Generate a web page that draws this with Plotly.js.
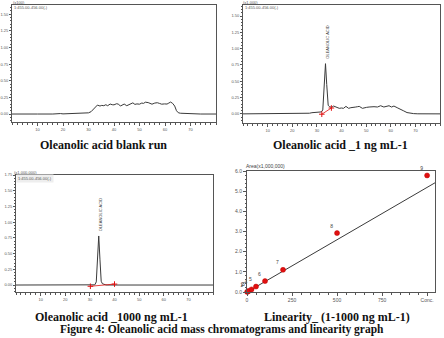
<!DOCTYPE html>
<html>
<head>
<meta charset="utf-8">
<script src="https://cdn.plot.ly/plotly-3.0.1.min.js"></script>
<style>
  html, body { margin: 0; padding: 0; background: #fff; }
  #chart { width: 444px; height: 338px; }
</style>
</head>
<body>
<div id="chart"></div>
<script>
// Oleanolic acid SIM chromatograms (retention time in min vs. intensity)
const blankTime = [0, 3, 5, 8, 10, 16, 17, 19, 20, 22, 23, 25, 26, 27, 28, 29, 30, 31, 32, 32.8, 33.5, 34.5, 35.2, 36, 36.8, 37.5, 38.5, 39.3, 40, 41, 41.8, 42.5, 43.3, 44, 45, 45.8, 46.5, 47.4, 48.2, 49, 50, 50.9, 51.6, 52.3, 53.4, 54.2, 54.9, 56, 57, 57.8, 58.7, 59.8, 60.8, 61.5, 62.2, 63, 63.8, 64.5, 65.2, 66, 67, 68, 69, 70, 71, 72, 74, 80];
const blankSignal = [0, 0.003, 0.005, 0.004, 0, 0, 0.006, 0.007, 0.002, 0.004, 0.008, 0.01, 0.006, 0.012, 0.01, 0.015, 0.018, 0.035, 0.07, 0.11, 0.135, 0.12, 0.13, 0.125, 0.14, 0.125, 0.15, 0.14, 0.138, 0.155, 0.148, 0.12, 0.135, 0.15, 0.125, 0.14, 0.15, 0.168, 0.145, 0.152, 0.148, 0.165, 0.16, 0.178, 0.172, 0.155, 0.148, 0.165, 0.17, 0.16, 0.148, 0.152, 0.15, 0.165, 0.18, 0.16, 0.12, 0.05, 0.02, 0.012, 0.01, 0.012, 0.008, 0.01, 0.005, 0.002, 0, 0];

const lowTime = [0, 5, 7, 8, 15, 16, 17, 20, 22, 24, 25, 26, 27, 28, 29, 30, 31, 31.8, 32.4, 33, 33.5, 34, 34.6, 35.2, 36, 36.8, 37.5, 38.3, 39.1, 40, 40.8, 41.8, 42.9, 43.8, 44.5, 45.8, 46.5, 47.2, 48.5, 49.3, 50.2, 51.2, 52.2, 53.2, 54.6, 55.9, 57.2, 58.6, 59.3, 60.3, 61.3, 62.6, 64, 65.3, 66.6, 68, 69.3, 71, 80];
const lowSignal = [0, 0.001, 0.004, 0.001, 0.002, 0.008, 0.003, 0.004, 0.006, 0.01, 0.008, 0.012, 0.01, 0.018, 0.02, 0.022, 0.025, 0.03, 0.06, 0.4, 0.77, 0.45, 0.13, 0.11, 0.1, 0.12, 0.11, 0.1, 0.085, 0.09, 0.085, 0.115, 0.085, 0.095, 0.095, 0.105, 0.11, 0.115, 0.085, 0.095, 0.1, 0.105, 0.11, 0.11, 0.105, 0.125, 0.105, 0.115, 0.125, 0.105, 0.12, 0.095, 0.075, 0.045, 0.02, 0.008, 0.004, 0.001, 0];

const highTime = [0, 31, 32, 32.6, 33.1, 33.6, 34.1, 34.6, 35.1, 35.6, 36.5, 37, 80];
const highSignal = [0, 0, 0.003, 0.05, 0.45, 0.78, 0.4, 0.06, 0.02, 0.01, 0.002, 0, 0];

// integration baselines (start / end of the peak)
const lowBaseTime = [32.0, 35.9];
const lowBaseSignal = [-0.005, 0.09];
const highBaseTime = [30.2, 40.0];
const highBaseSignal = [-0.02, 0.015];

// calibration levels (ng/mL) and peak areas (x1,000,000)
const calLevel = ['1', '2', '3', '4', '5', '6', '7', '8', '9'];
const calConc = [1, 5, 10, 25, 50, 100, 200, 500, 1000];
const calArea = [0.006, 0.03, 0.055, 0.13, 0.27, 0.54, 1.1, 2.92, 5.78];
const fitSlope = 0.00519;
const fitIntercept = -0.003;
const fitRange = [0, 1044];

const chromTicks = [10, 20, 30, 40, 50, 60, 70];
const calTickVals = [0, 250, 500, 750, 1000];
const calTickText = ['0', '250', '500', '750', 'Conc.'];

const W = 444, H = 338;
const px = v => v / W;
const py = v => 1 - v / H;

const axisCol = '#555';
const lineCol = '#3a3a3a';
const red = '#e01010';
const smallFont = { family: 'Liberation Sans, Arial, sans-serif', size: 4, color: '#555' };

function chromX(domain) {
  return {
    domain: domain, range: [0, 80], tickvals: chromTicks,
    showline: true, linecolor: axisCol, linewidth: 1, mirror: true,
    ticks: 'outside', ticklen: 3, tickcolor: axisCol, tickwidth: 1,
    tickfont: smallFont, showgrid: false, zeroline: false,
    minor: { ticks: 'outside', ticklen: 1.5, dtick: 2, tick0: 0, tickcolor: axisCol, showgrid: false }
  };
}
function chromY(domain, range) {
  return {
    domain: domain, range: range, dtick: 0.25, tick0: 0, tickformat: '.2f',
    showline: true, linecolor: axisCol, linewidth: 1, mirror: true,
    ticks: 'outside', ticklen: 2, tickcolor: axisCol, tickwidth: 1,
    tickfont: smallFont, showgrid: false, zeroline: false,
    minor: { ticks: 'outside', ticklen: 1.2, dtick: 0.05, tick0: 0, tickcolor: axisCol, showgrid: false }
  };
}

const fitY = fitRange.map(x => fitSlope * x + fitIntercept);

const traces = [
  { x: blankTime, y: blankSignal, xaxis: 'x', yaxis: 'y', mode: 'lines',
    line: { color: lineCol, width: 1 }, hoverinfo: 'skip' },
  { x: lowTime, y: lowSignal, xaxis: 'x2', yaxis: 'y2', mode: 'lines',
    line: { color: lineCol, width: 1 }, hoverinfo: 'skip' },
  { x: lowBaseTime, y: lowBaseSignal, xaxis: 'x2', yaxis: 'y2', mode: 'lines+markers',
    line: { color: red, width: 0.8 }, marker: { symbol: 'cross-thin', size: 4, line: { color: red, width: 1 } } },
  { x: highTime, y: highSignal, xaxis: 'x3', yaxis: 'y3', mode: 'lines',
    line: { color: lineCol, width: 1 }, hoverinfo: 'skip' },
  { x: highBaseTime, y: highBaseSignal, xaxis: 'x3', yaxis: 'y3', mode: 'lines+markers',
    line: { color: red, width: 0.8 }, marker: { symbol: 'cross-thin', size: 4, line: { color: red, width: 1 } } },
  { x: fitRange, y: fitY, xaxis: 'x4', yaxis: 'y4', mode: 'lines',
    line: { color: lineCol, width: 1 }, hoverinfo: 'skip' },
  { x: calConc, y: calArea, xaxis: 'x4', yaxis: 'y4', mode: 'markers+text',
    text: calLevel, textposition: 'top left',
    textfont: { family: 'Liberation Sans, Arial, sans-serif', size: 5, color: '#444' },
    marker: { color: red, size: 5, line: { color: '#c00000', width: 0.5 } }, cliponaxis: false }
];

const captionFont = { family: 'Liberation Serif, Times New Roman, serif', size: 12, color: '#111' };

const annotations = [
  // chromatogram headers
  { text: '(x100)', x: px(11), y: py(2.7), xref: 'paper', yref: 'paper', xanchor: 'left', yanchor: 'middle', showarrow: false, font: smallFont },
  { text: '1:455.00-456.00(-)', x: px(12), y: py(7.5), xref: 'paper', yref: 'paper', xanchor: 'left', yanchor: 'middle', showarrow: false, font: smallFont },
  { text: '(x1,000)', x: px(241), y: py(2.7), xref: 'paper', yref: 'paper', xanchor: 'left', yanchor: 'middle', showarrow: false, font: smallFont },
  { text: '1:455.00-456.00(-)', x: px(243), y: py(7.5), xref: 'paper', yref: 'paper', xanchor: 'left', yanchor: 'middle', showarrow: false, font: smallFont },
  { text: '(x1,000,000)', x: px(12), y: py(172), xref: 'paper', yref: 'paper', xanchor: 'left', yanchor: 'middle', showarrow: false, font: smallFont },
  { text: '1:455.00-456.00(-)', x: px(16), y: py(178), xref: 'paper', yref: 'paper', xanchor: 'left', yanchor: 'middle', showarrow: false, font: smallFont, bgcolor: '#eeeeee' },
  { text: 'Area(x1,000,000)', x: px(244), y: py(166), xref: 'paper', yref: 'paper', xanchor: 'left', yanchor: 'middle', showarrow: false,
    font: { family: 'Liberation Sans, Arial, sans-serif', size: 5, color: '#444' } },
  // peak labels
  { text: 'OLEANOLIC ACID', x: 33.5, y: 0.77, xref: 'x2', yref: 'y2', textangle: -90, xanchor: 'center', yanchor: 'bottom',
    xshift: 2, yshift: 3, showarrow: false, font: { family: 'Liberation Sans, Arial, sans-serif', size: 4, color: '#444' } },
  { text: 'OLEANOLIC ACID', x: 33.6, y: 0.78, xref: 'x3', yref: 'y3', textangle: -90, xanchor: 'center', yanchor: 'bottom',
    xshift: 2, yshift: 3, showarrow: false, font: { family: 'Liberation Sans, Arial, sans-serif', size: 4, color: '#444' } },
  // captions
  { text: '<b>Oleanolic acid blank run</b>', x: px(103), y: py(145), xref: 'paper', yref: 'paper', xanchor: 'center', yanchor: 'middle', showarrow: false, font: captionFont },
  { text: '<b>Oleanolic acid _1 ng mL-1</b>', x: px(340), y: py(145), xref: 'paper', yref: 'paper', xanchor: 'center', yanchor: 'middle', showarrow: false, font: captionFont },
  { text: '<b>Oleanolic acid _1000 ng mL-1</b>', x: px(112), y: py(317), xref: 'paper', yref: 'paper', xanchor: 'center', yanchor: 'middle', showarrow: false, font: captionFont },
  { text: '<b>Linearity_ (1-1000 ng mL-1)</b>', x: px(337), y: py(317), xref: 'paper', yref: 'paper', xanchor: 'center', yanchor: 'middle', showarrow: false, font: captionFont },
  { text: '<b>Figure 4: Oleanolic acid mass chromatograms and linearity graph</b>', x: px(222), y: py(338), xref: 'paper', yref: 'paper', xanchor: 'center', yanchor: 'bottom', showarrow: false,
    font: { family: 'Liberation Serif, Times New Roman, serif', size: 11.5, color: '#111' } }
];

const layout = {
  width: W, height: H,
  margin: { l: 0, r: 0, t: 0, b: 0 },
  paper_bgcolor: '#fff', plot_bgcolor: '#fff',
  showlegend: false,
  xaxis: chromX([px(12), px(216)]),
  yaxis: chromY([py(122), py(5)], [-0.12, 1.64]),
  xaxis2: Object.assign(chromX([px(243), px(440)]), { anchor: 'y2' }),
  yaxis2: Object.assign(chromY([py(123), py(5)], [-0.14, 1.67]), { anchor: 'x2' }),
  xaxis3: Object.assign(chromX([px(16), px(213)]), { anchor: 'y3' }),
  yaxis3: Object.assign(chromY([py(292), py(175)], [-0.111, 1.75]), { anchor: 'x3' }),
  xaxis4: {
    domain: [px(247), px(435)], anchor: 'y4', range: [0, 1044],
    tickvals: calTickVals, ticktext: calTickText,
    showline: true, linecolor: axisCol, linewidth: 1, mirror: true,
    ticks: 'outside', ticklen: 3, tickcolor: axisCol,
    tickfont: { family: 'Liberation Sans, Arial, sans-serif', size: 5, color: '#555' },
    showgrid: false, zeroline: false,
    minor: { ticks: 'outside', ticklen: 1.5, dtick: 50, tick0: 0, tickcolor: axisCol, showgrid: false }
  },
  yaxis4: {
    domain: [py(292), py(171)], anchor: 'x4', range: [0, 6], dtick: 1, tickformat: '.1f',
    showline: true, linecolor: axisCol, linewidth: 1, mirror: true,
    ticks: 'outside', ticklen: 3, tickcolor: axisCol,
    tickfont: { family: 'Liberation Sans, Arial, sans-serif', size: 5, color: '#555' },
    showgrid: false, zeroline: false,
    minor: { ticks: 'outside', ticklen: 1.5, dtick: 0.2, tick0: 0, tickcolor: axisCol, showgrid: false }
  },
  annotations: annotations
};

Plotly.newPlot('chart', traces, layout, { displayModeBar: false, staticPlot: true });
</script>
</body>
</html>
